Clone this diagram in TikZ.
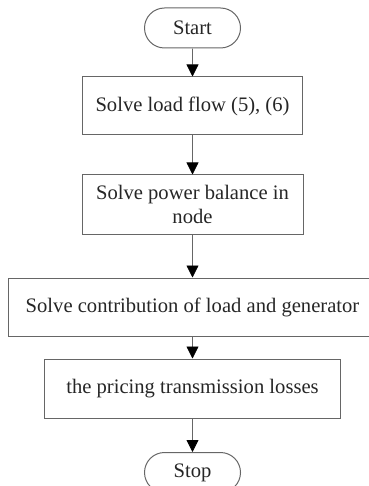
\documentclass[tikz,border=0pt]{standalone}
\usepackage{fontspec}
\setmainfont{Liberation Serif}
\usetikzlibrary{arrows.meta,shapes.misc}

\begin{document}
\begin{tikzpicture}[x=1pt,y=-1pt]
  \def\cx{192.5}

\tikzstyle{proc}=[rectangle,draw=black!60,line width=1pt,text=black!85,font=\fontsize{20.6}{23.5}\selectfont,align=center,inner sep=0pt,minimum height=58pt]
\tikzstyle{term}=[rounded rectangle,draw=black!60,line width=1pt,text=black!85,font=\fontsize{20.6}{23.5}\selectfont,inner sep=0pt,minimum width=96pt,minimum height=40pt]
\tikzstyle{flow}=[draw=black!60,line width=0.8pt,-{Triangle[width=12pt,length=12pt,color=black]}]

\useasboundingbox (0,0) rectangle (368,486);
\node[term] (Start) at (\cx,28) {Start};
\node[proc,minimum width=220pt] (Load) at (\cx,106) {Solve load flow (5), (6)};
\draw[flow] (Start) -- (Load);
\node[proc,minimum width=221pt,minimum height=59pt] (Balance) at (\cx,204.5) {Solve power balance in\\node};
\draw[flow] (Load) -- (Balance);
\node[proc,minimum width=368pt] (Contrib) at (\cx,307) {Solve contribution of load and generator};
\draw[flow] (Balance) -- (Contrib);
\node[proc,minimum width=296pt,minimum height=59pt] (Pricing) at (\cx,388.5) {the pricing transmission losses};
\draw[flow] (Contrib) -- (Pricing);
\node[term] (Stop) at (\cx,472.5) {Stop};
\draw[flow] (Pricing) -- (Stop);
\end{tikzpicture}
\end{document}
